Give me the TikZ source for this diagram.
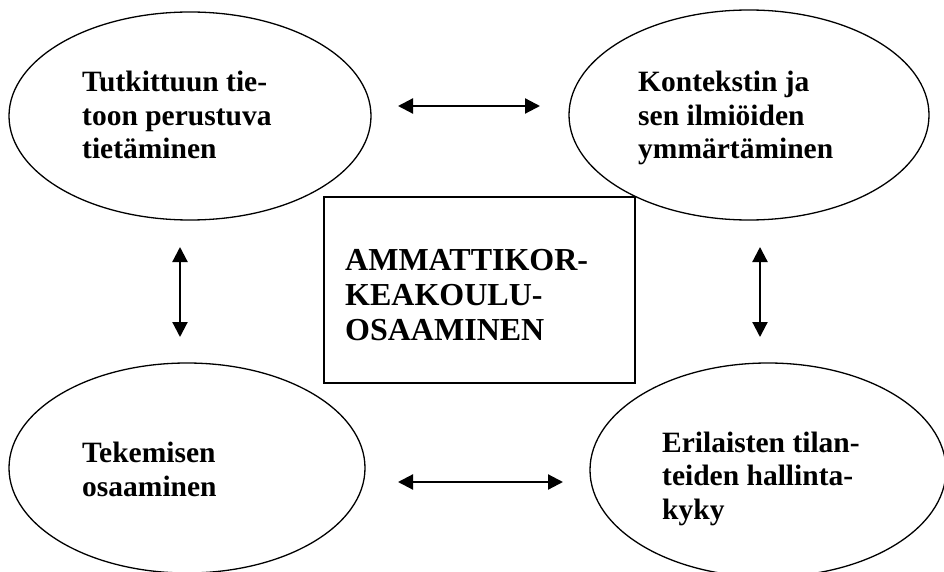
\documentclass[tikz,border=0pt]{standalone}
\usepackage{fontspec}
\setmainfont{Liberation Serif}
\usetikzlibrary{arrows.meta,shapes.geometric}
\begin{document}
\begin{tikzpicture}[x=1pt,y=-1pt,
  blob/.style={draw,ellipse,line width=1.3pt,inner sep=0pt},
  % multi-line labels are placed by the baseline of their last line
  blobtext/.style={anchor=base west,align=left,inner sep=0pt,
    font=\fontsize{29.5}{33.5}\selectfont\bfseries},
  centrebox/.style={draw,line width=1.5pt,inner sep=0pt},
  centretext/.style={anchor=base west,align=left,inner sep=0pt,
    font=\fontsize{32}{35}\selectfont\bfseries},
  link/.style={line width=2.2pt,
    {Triangle[length=15pt,width=15pt]}-{Triangle[length=15pt,width=15pt]}}]
\useasboundingbox (0,0) rectangle (944,572);

% four areas of competence
\node[blob,minimum width=362pt,minimum height=208pt] (tl) at (190,116) {};
\node[blob,minimum width=360pt,minimum height=210pt] (tr) at (749,115) {};
\node[blob,minimum width=356pt,minimum height=210pt] (bl) at (187,468) {};
\node[blob,minimum width=356pt,minimum height=214pt] (br) at (768,470) {};

\node[blobtext] (tltext) at (82,159) {Tutkittuun tie-\\toon perustuva\\tietäminen};
\node[blobtext] (trtext) at (638,159) {Kontekstin ja\\sen ilmiöiden\\ymmärtäminen};
\node[blobtext] (bltext) at (82,496) {Tekemisen\\osaaminen};
\node[blobtext] (brtext) at (662,519) {Erilaisten tilan-\\teiden hallinta-\\kyky};

% central box
\node[centrebox,minimum width=311pt,minimum height=186pt] (box) at (479.5,290) {};
\node[centretext] (boxtext) at (345,340) {AMMATTIKOR-\\KEAKOULU-\\OSAAMINEN};

% two-way arrows between the areas
\coordinate (toparrowL) at (398,106);
\coordinate (toparrowR) at (540,106);
\coordinate (botarrowL) at (398,482);
\coordinate (botarrowR) at (563,482);
\coordinate (leftarrowT) at (180,247);
\coordinate (leftarrowB) at (180,337);
\coordinate (rightarrowT) at (760,247);
\coordinate (rightarrowB) at (760,337);

\draw[link] (toparrowL) -- (toparrowR);
\draw[link] (botarrowL) -- (botarrowR);
\draw[link] (leftarrowT) -- (leftarrowB);
\draw[link] (rightarrowT) -- (rightarrowB);
\end{tikzpicture}
\end{document}
